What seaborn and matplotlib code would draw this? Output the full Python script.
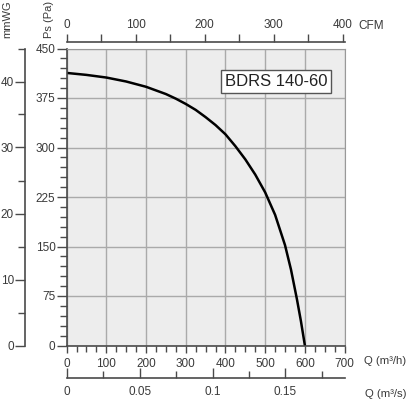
import numpy as np
import pandas as pd
import matplotlib
matplotlib.use("Agg")
import matplotlib.pyplot as plt
from matplotlib.ticker import MultipleLocator
import seaborn as sns

# fan curve
flow_m3h = [0, 50, 100, 150, 200, 250, 275, 300, 325, 350, 375, 400, 425, 450, 475, 500, 525,
            550, 565, 580, 590, 600]
static_pa = [413, 410, 406, 400, 392, 381, 374, 366, 357, 346, 334, 320, 302, 282, 259, 232, 198,
             152, 115, 70, 37, 0]
model_name = "BDRS 140-60"

x_ticks = [0, 100, 200, 300, 400, 500, 600, 700]
y_ticks = [0, 75, 150, 225, 300, 375, 450]
cfm_ticks = [0, 100, 200, 300, 400]
m3s_ticks = [0, 0.05, 0.1, 0.15]
m3s_labels = ["0", "0.05", "0.1", "0.15"]
mmwg_ticks = [0, 10, 20, 30, 40]

sns.set_style("ticks")
plt.rcParams["font.family"] = ["Liberation Sans", "DejaVu Sans"]

TXT = "#3a3a3a"
SPINE = "#4a4a4a"
W, H = 407, 400
fig = plt.figure(figsize=(W / 100, H / 100), dpi=100)

L, B = 66.6 / W, 54.5 / H
AW, AH = 278 / W, 297 / H

ax = fig.add_axes([L, B, AW, AH])
ax.set_facecolor("#ededed")
df = pd.DataFrame({"Q": flow_m3h, "Ps": static_pa})
sns.lineplot(data=df, x="Q", y="Ps", ax=ax, color="black", linewidth=1.8)
ax.set_xlim(0, 700)
ax.set_ylim(0, 450)
ax.set_xticks(x_ticks)
ax.set_yticks(y_ticks)
ax.xaxis.set_minor_locator(MultipleLocator(25))
ax.yaxis.set_minor_locator(MultipleLocator(15))
ax.grid(True, which="major", color="#aaaaaa", linewidth=1)
ax.set_axisbelow(True)
ax.set_xlabel("")
ax.set_ylabel("")
for s in ["top", "right"]:
    ax.spines[s].set_color("#999999")
for s in ["left", "bottom"]:
    ax.spines[s].set_color(SPINE)
    ax.spines[s].set_linewidth(1.2)
ax.tick_params(axis="y", which="major", left=True, direction="out", length=7, width=1, color=SPINE,
               labelsize=8.5, labelcolor=TXT, pad=1)
ax.tick_params(axis="y", which="minor", left=True, direction="out", length=5, width=1, color=SPINE)
ax.tick_params(axis="x", which="major", bottom=True, direction="out", length=5, width=1, color=SPINE,
               labelsize=8.5, labelcolor=TXT, pad=4)
ax.tick_params(axis="x", which="minor", bottom=True, direction="out", length=4, width=1, color=SPINE)

ax.text(0.937, 0.889, model_name, transform=ax.transAxes, ha="right", va="center",
        fontsize=12, color="#222222",
        bbox=dict(boxstyle="square,pad=0.22", facecolor="white", edgecolor="#555555", linewidth=1))

# top CFM axis
ax_cfm = fig.add_axes([L, (H - 42) / H, AW, 0.0001])
ax_cfm.set_xlim(0, 403)
ax_cfm.set_yticks([])
ax_cfm.xaxis.tick_top()
ax_cfm.set_xticks(cfm_ticks)
ax_cfm.xaxis.set_minor_locator(MultipleLocator(50))
for s in ["left", "right", "bottom"]:
    ax_cfm.spines[s].set_visible(False)
ax_cfm.spines["top"].set_color(SPINE)
ax_cfm.spines["top"].set_linewidth(1.2)
ax_cfm.tick_params(axis="x", which="both", top=True, bottom=False, direction="out", length=6, width=1,
                   color=SPINE, labelsize=8.5, labelcolor=TXT, pad=2)
ax_cfm.patch.set_visible(False)

# bottom m3/s axis
ax_m3s = fig.add_axes([L, 22 / H, AW, 0.0001])
ax_m3s.set_xlim(0, 0.1905)
ax_m3s.set_yticks([])
ax_m3s.set_xticks(m3s_ticks)
ax_m3s.set_xticklabels(m3s_labels)
ax_m3s.xaxis.set_minor_locator(MultipleLocator(0.025))
for s in ["left", "right", "top"]:
    ax_m3s.spines[s].set_visible(False)
ax_m3s.spines["bottom"].set_color(SPINE)
ax_m3s.spines["bottom"].set_linewidth(1.2)
ax_m3s.tick_params(axis="x", which="major", bottom=True, top=False, direction="in", length=7, width=1,
                   color=SPINE, labelsize=8.5, labelcolor=TXT, pad=6)
ax_m3s.tick_params(axis="x", which="minor", bottom=True, top=False, direction="in", length=5, width=1,
                   color=SPINE)
ax_m3s.patch.set_visible(False)

# left mmWG axis
ax_mm = fig.add_axes([25 / W, B, 0.0001, AH])
ax_mm.set_ylim(0, 45)
ax_mm.set_xticks([])
ax_mm.set_yticks(mmwg_ticks)
ax_mm.yaxis.set_minor_locator(MultipleLocator(5))
for s in ["right", "top", "bottom"]:
    ax_mm.spines[s].set_visible(False)
ax_mm.spines["left"].set_color(SPINE)
ax_mm.spines["left"].set_linewidth(1.2)
ax_mm.tick_params(axis="y", which="major", left=True, right=False, direction="out", length=7, width=1,
                  color=SPINE, labelsize=8.5, labelcolor=TXT, pad=1)
ax_mm.tick_params(axis="y", which="minor", left=True, right=False, direction="out", length=5, width=1,
                  color=SPINE)
ax_mm.patch.set_visible(False)

# unit labels
fig.text(358 / W, (H - 26) / H, "CFM", ha="left", va="center", fontsize=8.5, color=TXT)
fig.text(364 / W, (H - 361) / H, "Q (m³/h)", ha="left", va="center", fontsize=8.2, color=TXT)
fig.text(365 / W, (H - 394) / H, "Q (m³/s)", ha="left", va="center", fontsize=8.2, color=TXT)
fig.text(49 / W, (H - 38) / H, "Ps (Pa)", ha="center", va="bottom", rotation=90, fontsize=8, color=TXT)
fig.text(7 / W, (H - 38) / H, "mmWG", ha="center", va="bottom", rotation=90, fontsize=8, color=TXT)

fig.savefig("out.png", dpi=100)
